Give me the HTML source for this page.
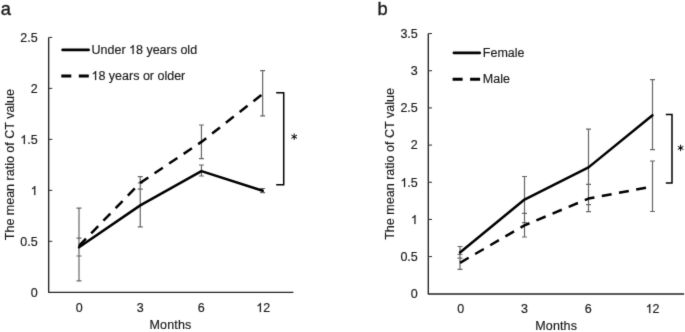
<!DOCTYPE html>
<html>
<head>
<meta charset="utf-8">
<style>
html,body{margin:0;padding:0;background:#fff;}
body{width:685px;height:332px;overflow:hidden;}
svg{display:block;}
text{font-family:"Liberation Sans",sans-serif;fill:#1a1a1a;stroke:#1a1a1a;stroke-width:0.17px;}
.t{font-size:12.5px;}
.p{font-size:18.3px;stroke-width:0.35px;}
.ax{stroke:#222;stroke-width:1.35;fill:none;stroke-linejoin:round;}
.tk{stroke:#2a2a2a;stroke-width:1.0;fill:none;}
.eb{stroke:#666;stroke-width:1.2;fill:none;}
.ln{stroke:#000;stroke-width:2.5;fill:none;stroke-linejoin:round;stroke-linecap:round;}
.ds{stroke:#000;stroke-width:2.5;fill:none;stroke-linejoin:round;stroke-dasharray:10 7.5;}
.lg{stroke-width:2.9;}
.br{stroke:#000;stroke-width:1.5;fill:none;}
.st{stroke:#000;stroke-width:1.0;fill:none;}
</style>
</head>
<body>
<svg width="685" height="332" viewBox="0 0 685 332">
<defs><filter id="bl" x="0" y="0" width="685" height="332" filterUnits="userSpaceOnUse" color-interpolation-filters="sRGB"><feConvolveMatrix order="3" kernelMatrix="0.01134 0.08382 0.01134 0.08382 0.61935 0.08382 0.01134 0.08382 0.01134" divisor="1" edgeMode="duplicate" preserveAlpha="false"/></filter><g id="one"><path transform="scale(0.0061035 -0.0061035)" d="M763 0H583V1147Q518 1085 412.5 1023Q307 961 223 930V1104Q374 1175 487 1276Q600 1377 647 1472H763Z" fill="#1a1a1a" stroke="#1a1a1a" stroke-width="28"/></g></defs>
<rect width="685" height="332" fill="#fff"/>
<g filter="url(#bl)">

<text class="p" transform="translate(0.8 14.95) scale(1 1.02)">a</text>
<path class="ax" d="M48.65 37.4V292.3H293.4"/>
<path class="tk" d="M48.65 37.40h3.6M48.65 88.38h3.6M48.65 139.36h3.6M48.65 190.34h3.6M48.65 241.32h3.6"/>
<g class="t" text-anchor="end">
<text x="37.6" y="41.75">2.5</text>
<text x="37.6" y="92.73">2</text>
<use href="#one" transform="translate(20.23 144)"/><text x="37.6" y="143.71">.5</text>
<use href="#one" transform="translate(30.65 195)"/>
<text x="37.6" y="245.67">0.5</text>
<text x="37.6" y="296.65">0</text>
</g>
<g class="t" text-anchor="middle">
<text x="79.2" y="311.6">0</text>
<text x="140.3" y="311.6">3</text>
<text x="201.3" y="311.6">6</text>
<use href="#one" transform="translate(256.25 312)"/><text x="263.2" y="311.6" text-anchor="start">2</text>
<text x="170.5" y="328.6" style="letter-spacing:0.15px">Months</text>
</g>
<text class="t" text-anchor="middle" transform="translate(14.4 164.6) rotate(-90)">The mean ratio of CT value</text>
<path class="eb" d="M79.0 208.1V280.9M76.5 208.1h5.0M76.5 280.9h5.0M79.0 238.2V256M76.5 238.2h5.0M76.5 256h5.0M140.25 183V226.8M137.75 183h5.0M137.75 226.8h5.0M140.25 176.7V189.1M137.75 176.7h5.0M137.75 189.1h5.0M201.45 165V176M198.95 165h5.0M198.95 176h5.0M201.45 125.0V158.7M198.95 125.0h5.0M198.95 158.7h5.0M262.65 188.5V192.7M260.15 188.5h5.0M260.15 192.7h5.0M262.65 70.6V115.9M260.15 70.6h5.0M260.15 115.9h5.0"/>
<path class="ln" d="M79.0 247.2L140.25 205.35L201.45 171.1L262.65 190.8"/>
<path class="ds" d="M79.0 245.8L140.25 182.9L201.45 141.9L262.65 94.0"/>
<path class="ln lg" d="M62.7 49.9H88.5"/>
<path class="ds lg" d="M61.3 76H89.3"/>
<text class="t" x="91.5" y="54.3">Under </text><use href="#one" transform="translate(129.01 54)"/><text class="t" x="135.96" y="54.3">8 years old</text>
<use href="#one" transform="translate(91.50 80)"/><text class="t" x="98.45" y="80.2">8 years or older</text>
<path class="br" d="M276.2 92.7H283.7V184.7H276.2"/>
<path class="st" d="M294.2 133.5v6.4M291.4 135.1l5.6 3.2M297 135.1l-5.6 3.2"/>
<text class="p" transform="translate(377.4 14.95) scale(1 1.02)">b</text>
<path class="ax" d="M428.3 33.58V294.0H684.1"/>
<path class="tk" d="M428.3 33.58h3.7M428.3 70.75h3.7M428.3 107.92h3.7M428.3 145.09h3.7M428.3 182.26h3.7M428.3 219.43h3.7M428.3 256.60h3.7"/>
<g class="t" text-anchor="end">
<text x="417.8" y="37.98">3.5</text>
<text x="417.8" y="75.15">3</text>
<text x="417.8" y="112.32">2.5</text>
<text x="417.8" y="149.49">2</text>
<use href="#one" transform="translate(400.43 187)"/><text x="417.8" y="186.66">.5</text>
<use href="#one" transform="translate(410.85 224)"/>
<text x="417.8" y="261.00">0.5</text>
<text x="417.8" y="298.17">0</text>
</g>
<g class="t" text-anchor="middle">
<text x="460.7" y="312.7">0</text>
<text x="524.4" y="312.7">3</text>
<text x="588.3" y="312.7">6</text>
<use href="#one" transform="translate(645.65 313)"/><text x="652.6" y="312.7" text-anchor="start">2</text>
<text x="556.2" y="329.6" style="letter-spacing:0.15px">Months</text>
</g>
<text class="t" style="font-size:12.55px" text-anchor="middle" transform="translate(394 163.9) rotate(-90)">The mean ratio of CT value</text>
<path class="eb" d="M460.0 246.5V258.2M457.5 246.5h5.0M457.5 258.2h5.0M460.0 254.5V269.4M457.5 254.5h5.0M457.5 269.4h5.0M524.5 176.5V222.6M522.0 176.5h5.0M522.0 222.6h5.0M524.5 213.3V237M522.0 213.3h5.0M522.0 237h5.0M588.5 129.05V204.6M586.0 129.05h5.0M586.0 204.6h5.0M588.5 184.4V211.6M586.0 184.4h5.0M586.0 211.6h5.0M652.5 79.7V149.6M650.0 79.7h5.0M650.0 149.6h5.0M652.5 161V211.5M650.0 161h5.0M650.0 211.5h5.0"/>
<path class="ln" d="M460.0 252.5L524.5 199.55L588.5 167.4L652.5 115.2"/>
<path class="ds" d="M460.0 262.8L524.5 225.35L588.5 198.55L652.5 186.5"/>
<path class="ln lg" d="M454 52.9H479.6"/>
<path class="ds lg" d="M452.6 79.2H480.6"/>
<text class="t" x="482.8" y="56.9">Female</text>
<text class="t" x="482.8" y="83.3">Male</text>
<path class="br" d="M665.8 114.6H672V182.9H665.8"/>
<path class="st" d="M680.6 144.7v6.4M677.8 146.3l5.6 3.2M683.4 146.3l-5.6 3.2"/>
</g>
</svg>
</body>
</html>
